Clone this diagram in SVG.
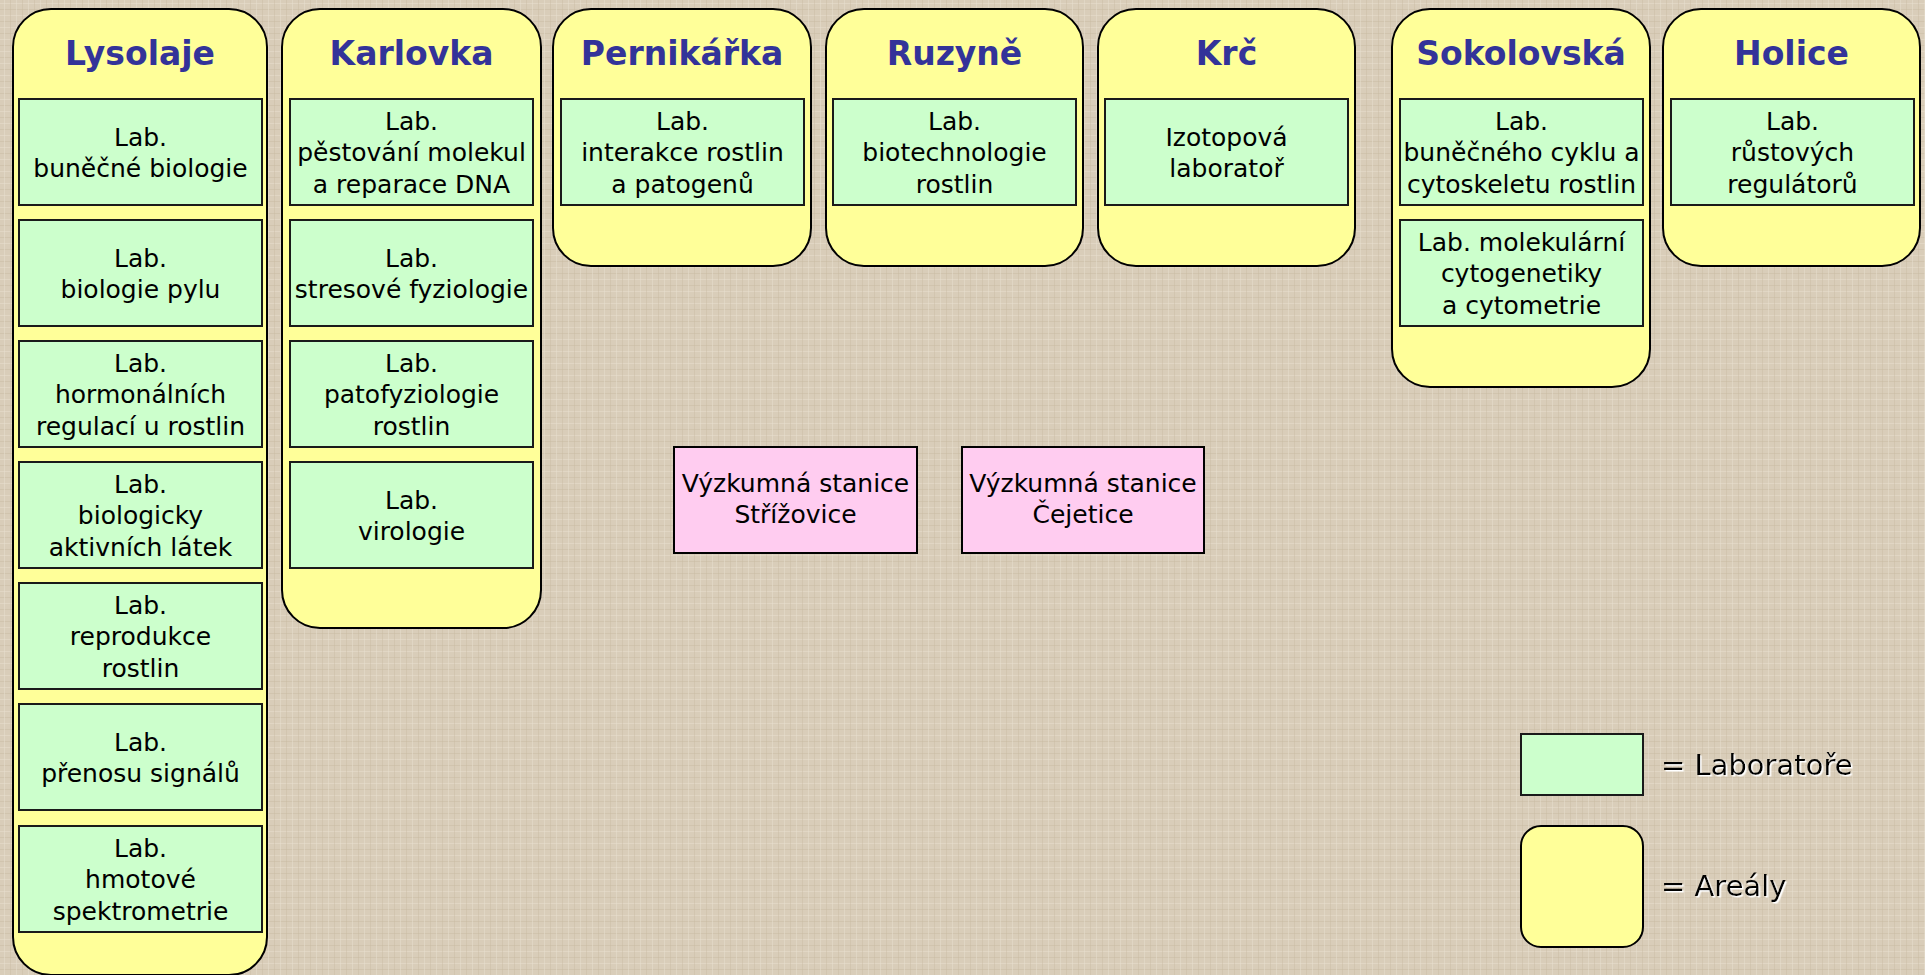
<svg xmlns="http://www.w3.org/2000/svg" width="1925" height="975" viewBox="0 0 1925 975">
<defs>
<pattern id="tex" width="12" height="12" patternUnits="userSpaceOnUse">
<rect width="12" height="12" fill="#D9CDB9"/>
<rect x="0" y="3" width="12" height="1" fill="#E6DCCB" opacity="0.6"/>
<rect x="0" y="9" width="12" height="1" fill="#C9BBA3" opacity="0.5"/>
<rect x="4" y="0" width="1" height="12" fill="#E8DFCF" opacity="0.5"/>
<rect x="10" y="0" width="1" height="12" fill="#C7B9A1" opacity="0.4"/>
</pattern>
<filter id="sh" x="-10%" y="-20%" width="120%" height="140%">
<feDropShadow dx="1.5" dy="1.5" stdDeviation="0" flood-color="#ffffff" flood-opacity="1"/>
</filter>
</defs>
<style>
.area{fill:#FFFF99;stroke:#000;stroke-width:2}
.lab{fill:#CCFFCC;stroke:#1a1a1a;stroke-width:2}
.st{fill:#FFCCF0;stroke:#000;stroke-width:2}
.title{font-family:"DejaVu Sans",sans-serif;font-size:33px;font-weight:bold;fill:#333399;text-anchor:middle}
.t{font-family:"DejaVu Sans",sans-serif;font-size:25px;fill:#000;text-anchor:middle}
.leg{font-family:"DejaVu Sans",sans-serif;font-size:29px;fill:#000}
</style>
<rect width="1925" height="975" fill="url(#tex)"/>

<g id="area-lysolaje">
<rect class="area" x="13" y="9" width="254" height="966" rx="38"/>
<text class="title" x="140" y="65">Lysolaje</text>
</g>
<g id="area-karlovka">
<rect class="area" x="282" y="9" width="259" height="619" rx="38"/>
<text class="title" x="411.5" y="65">Karlovka</text>
</g>
<g id="area-pernikarka">
<rect class="area" x="553" y="9" width="258" height="257" rx="38"/>
<text class="title" x="682" y="65">Pernikářka</text>
</g>
<g id="area-ruzyne">
<rect class="area" x="826" y="9" width="257" height="257" rx="38"/>
<text class="title" x="954.5" y="65">Ruzyně</text>
</g>
<g id="area-krc">
<rect class="area" x="1098" y="9" width="257" height="257" rx="38"/>
<text class="title" x="1226.5" y="65">Krč</text>
</g>
<g id="area-sokolovska">
<rect class="area" x="1392" y="9" width="258" height="378" rx="38"/>
<text class="title" x="1521" y="65">Sokolovská</text>
</g>
<g id="area-holice">
<rect class="area" x="1663" y="9" width="257" height="257" rx="38"/>
<text class="title" x="1791.5" y="65">Holice</text>
</g>

<g id="lab-lys-1"><rect class="lab" x="19" y="99" width="243" height="106"/>
<text class="t" x="140.5" y="146">Lab.</text><text class="t" x="140.5" y="177">buněčné biologie</text></g>
<g id="lab-lys-2"><rect class="lab" x="19" y="220" width="243" height="106"/>
<text class="t" x="140.5" y="267">Lab.</text><text class="t" x="140.5" y="298">biologie pylu</text></g>
<g id="lab-lys-3"><rect class="lab" x="19" y="341" width="243" height="106"/>
<text class="t" x="140.5" y="372">Lab.</text><text class="t" x="140.5" y="403">hormonálních</text><text class="t" x="140.5" y="435">regulací u rostlin</text></g>
<g id="lab-lys-4"><rect class="lab" x="19" y="462" width="243" height="106"/>
<text class="t" x="140.5" y="493">Lab.</text><text class="t" x="140.5" y="524">biologicky</text><text class="t" x="140.5" y="556">aktivních látek</text></g>
<g id="lab-lys-5"><rect class="lab" x="19" y="583" width="243" height="106"/>
<text class="t" x="140.5" y="614">Lab.</text><text class="t" x="140.5" y="645">reprodukce</text><text class="t" x="140.5" y="677">rostlin</text></g>
<g id="lab-lys-6"><rect class="lab" x="19" y="704" width="243" height="106"/>
<text class="t" x="140.5" y="751">Lab.</text><text class="t" x="140.5" y="782">přenosu signálů</text></g>
<g id="lab-lys-7"><rect class="lab" x="19" y="826" width="243" height="106"/>
<text class="t" x="140.5" y="857">Lab.</text><text class="t" x="140.5" y="888">hmotové</text><text class="t" x="140.5" y="920">spektrometrie</text></g>

<g id="lab-kar-1"><rect class="lab" x="290" y="99" width="243" height="106"/>
<text class="t" x="411.5" y="130">Lab.</text><text class="t" x="411.5" y="161">pěstování molekul</text><text class="t" x="411.5" y="193">a reparace DNA</text></g>
<g id="lab-kar-2"><rect class="lab" x="290" y="220" width="243" height="106"/>
<text class="t" x="411.5" y="267">Lab.</text><text class="t" x="411.5" y="298">stresové fyziologie</text></g>
<g id="lab-kar-3"><rect class="lab" x="290" y="341" width="243" height="106"/>
<text class="t" x="411.5" y="372">Lab.</text><text class="t" x="411.5" y="403">patofyziologie</text><text class="t" x="411.5" y="435">rostlin</text></g>
<g id="lab-kar-4"><rect class="lab" x="290" y="462" width="243" height="106"/>
<text class="t" x="411.5" y="509">Lab.</text><text class="t" x="411.5" y="540">virologie</text></g>

<g id="lab-per-1"><rect class="lab" x="561" y="99" width="243" height="106"/>
<text class="t" x="682.5" y="130">Lab.</text><text class="t" x="682.5" y="161">interakce rostlin</text><text class="t" x="682.5" y="193">a patogenů</text></g>
<g id="lab-ruz-1"><rect class="lab" x="833" y="99" width="243" height="106"/>
<text class="t" x="954.5" y="130">Lab.</text><text class="t" x="954.5" y="161">biotechnologie</text><text class="t" x="954.5" y="193">rostlin</text></g>
<g id="lab-krc-1"><rect class="lab" x="1105" y="99" width="243" height="106"/>
<text class="t" x="1226.5" y="146">Izotopová</text><text class="t" x="1226.5" y="177">laboratoř</text></g>
<g id="lab-sok-1"><rect class="lab" x="1400" y="99" width="243" height="106"/>
<text class="t" x="1521.5" y="130">Lab.</text><text class="t" x="1521.5" y="161">buněčného cyklu a</text><text class="t" x="1521.5" y="193">cytoskeletu rostlin</text></g>
<g id="lab-sok-2"><rect class="lab" x="1400" y="220" width="243" height="106"/>
<text class="t" x="1521.5" y="251">Lab. molekulární</text><text class="t" x="1521.5" y="282">cytogenetiky</text><text class="t" x="1521.5" y="314">a cytometrie</text></g>
<g id="lab-hol-1"><rect class="lab" x="1671" y="99" width="243" height="106"/>
<text class="t" x="1792.5" y="130">Lab.</text><text class="t" x="1792.5" y="161">růstových</text><text class="t" x="1792.5" y="193">regulátorů</text></g>

<g id="station-strizovice"><rect class="st" x="674" y="447" width="243" height="106"/>
<text class="t" x="795.5" y="492">Výzkumná stanice</text><text class="t" x="795.5" y="523">Střížovice</text></g>
<g id="station-cejetice"><rect class="st" x="962" y="447" width="242" height="106"/>
<text class="t" x="1083" y="492">Výzkumná stanice</text><text class="t" x="1083" y="523">Čejetice</text></g>

<g id="legend">
<rect class="lab" x="1521" y="734" width="122" height="61"/>
<text class="leg" x="1661" y="775" filter="url(#sh)">= Laboratoře</text>
<rect class="area" x="1521" y="826" width="122" height="121" rx="20"/>
<text class="leg" x="1661" y="896" filter="url(#sh)">= Areály</text>
</g>
<g id="connectors"></g>
</svg>
